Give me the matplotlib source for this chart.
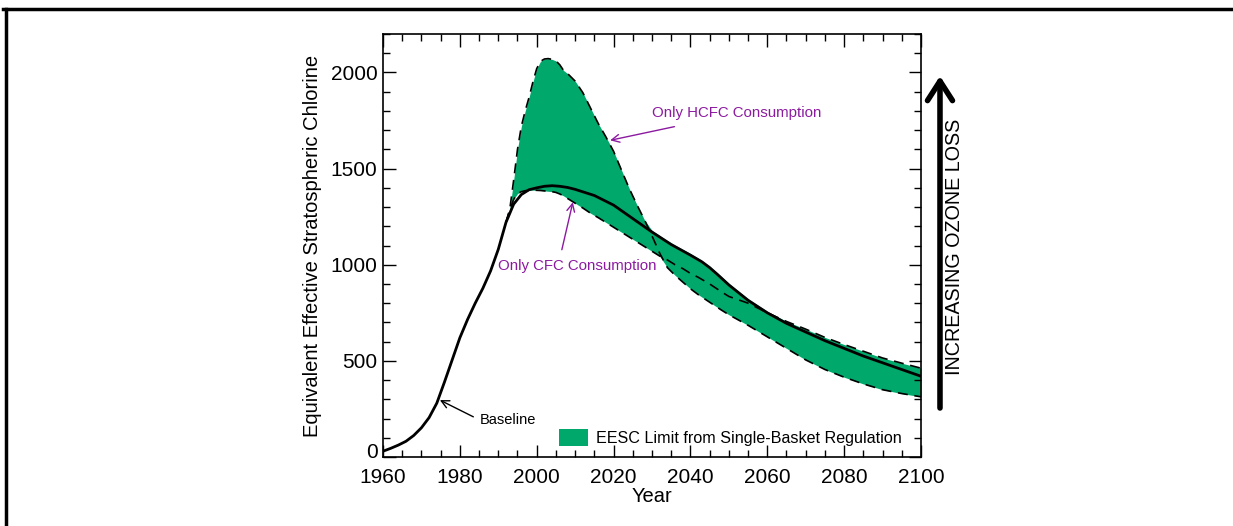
import numpy as np
import matplotlib
matplotlib.use('Agg')
import matplotlib.pyplot as plt
from matplotlib.lines import Line2D
from matplotlib.transforms import ScaledTranslation

plt.rcParams['font.family'] = ['Liberation Sans', 'DejaVu Sans']

# baseline EESC curve
base_years = [1960, 1962, 1964, 1966, 1968, 1970, 1972, 1974, 1976, 1978,
              1980, 1982, 1984, 1986, 1988, 1990, 1992, 1994, 1996, 1998,
              2000, 2002, 2004, 2006, 2008, 2010, 2015, 2020, 2025, 2030,
              2035, 2040, 2043, 2045, 2047, 2050, 2055, 2060, 2065, 2070,
              2075, 2080, 2085, 2090, 2095, 2100]
baseline = [30, 45, 62, 82, 112, 152, 205, 280, 390, 505,
            620, 715, 800, 878, 968, 1080, 1220, 1315, 1365, 1390,
            1400, 1408, 1411, 1408, 1402, 1392, 1360, 1310, 1240, 1170,
            1105, 1050, 1015, 985, 950, 895, 815, 750, 695, 650,
            605, 565, 525, 490, 455, 420]

# single-basket scenarios
scen_years = [1992, 1993, 1994, 1995, 1996, 1997, 1998, 1999, 2000, 2001,
              2002, 2003, 2004, 2005, 2006, 2007, 2008, 2010, 2012, 2014,
              2016, 2018, 2020, 2022, 2024, 2026, 2028, 2030, 2032, 2034,
              2036, 2038, 2040, 2042, 2045, 2048, 2050, 2055, 2060, 2065,
              2070, 2075, 2080, 2085, 2090, 2095, 2100]
hcfc_only = [1220, 1290, 1440, 1600, 1720, 1800, 1870, 1950, 2020, 2058,
             2070, 2072, 2068, 2060, 2040, 2010, 1995, 1955, 1895, 1815,
             1735, 1665, 1590, 1495, 1400, 1315, 1235, 1150, 1060, 985,
             945, 910, 875, 845, 805, 765, 740, 685, 625, 565,
             505, 455, 415, 380, 350, 330, 313]
cfc_only = [1220, 1285, 1340, 1370, 1380, 1385, 1387, 1388, 1387, 1386,
            1384, 1382, 1380, 1376, 1368, 1358, 1345, 1320, 1295, 1268,
            1245, 1220, 1195, 1170, 1145, 1120, 1095, 1070, 1045, 1025,
            1000, 980, 955, 935, 900, 860, 835, 800, 750, 705,
            665, 622, 585, 550, 515, 488, 462]

green = '#00a86b'
purple = '#8c1aa0'

fig = plt.figure(figsize=(12.33, 5.26), dpi=100)
ax = fig.add_axes([383/1233, 1-457/526, (921-383)/1233, (457-34)/526])

sy = np.array(scen_years)
hc = np.array(hcfc_only)
cf = np.array(cfc_only)
bl_on = np.interp(sy, base_years, baseline)
ax.fill_between(sy, np.minimum(hc, cf), np.maximum(np.maximum(hc, cf), bl_on + 8),
                color=green, lw=0, label='EESC Limit from Single-Basket Regulation')
ax.plot(sy, hc, color='black', lw=1.2, ls=(0, (6, 4)))
ax.plot(sy, cf, color='black', lw=1.2, ls=(0, (6, 4)))
ax.plot(base_years, baseline, color='black', lw=2.0)

ax.set_xlim(1960, 2100)
ax.set_ylim(0, 2200)
ax.set_xticks(np.arange(1960, 2101, 20))
ax.set_xticks(np.arange(1960, 2101, 5), minor=True)
ax.set_yticks(np.arange(0, 2001, 500))
ax.set_yticks(np.arange(0, 2201, 100), minor=True)
ax.tick_params(which='both', direction='in', top=True, right=True, labelsize=15)
ax.tick_params(axis='x', which='major', length=9, width=1.0, pad=8)
ax.tick_params(axis='y', which='major', length=9, width=1.0, pad=4)
ax.tick_params(which='minor', length=5, width=1.0)
for s in ax.spines.values():
    s.set_linewidth(1.2)

# lift the "0" label a little so it clears "1960"
fig.canvas.draw()
zero_lab = ax.get_yticklabels()[0]
zero_lab.set_transform(zero_lab.get_transform() + ScaledTranslation(0, 6/100, fig.dpi_scale_trans))

ax.set_xlabel('Year', fontsize=14.5, labelpad=0)
ax.set_ylabel('Equivalent Effective Stratospheric Chlorine', fontsize=14.5, labelpad=6)

# labels with arrows
ax.annotate('Only HCFC Consumption', xy=(2019.1, 1647), xytext=(2030.0, 1787),
            color=purple, fontsize=10.8, va='center', ha='left',
            arrowprops=dict(arrowstyle='->', color=purple, lw=1.0,
                            shrinkA=12, shrinkB=0, mutation_scale=14))
ax.annotate('Only CFC Consumption', xy=(2009.4, 1325), xytext=(2010.5, 992),
            color=purple, fontsize=10.8, va='center', ha='center',
            arrowprops=dict(arrowstyle='->', color=purple, lw=1.0,
                            shrinkA=5, shrinkB=0, mutation_scale=14,
                            relpos=(0.39, 1.0)))
ax.annotate('Baseline', xy=(1974.8, 296), xytext=(1985.2, 192),
            color='black', fontsize=10.5, va='center', ha='left',
            arrowprops=dict(arrowstyle='->', color='black', lw=1.0,
                            shrinkA=3, shrinkB=0, mutation_scale=14,
                            relpos=(0, 0.5)))

ax.legend(loc='lower right', bbox_to_anchor=(0.985, 0.0), frameon=False, fontsize=11.6,
          handlelength=1.8, handleheight=1.2, handletextpad=0.5, borderaxespad=0.3)

# ozone loss arrow
ax.annotate('', xy=(1.0353, 0.9007), xytext=(1.0353, 0.1158),
            xycoords='axes fraction', textcoords='axes fraction',
            arrowprops=dict(arrowstyle='->,head_length=0.7,head_width=0.45',
                            color='black', lw=4, mutation_scale=20,
                            shrinkA=0, shrinkB=0), annotation_clip=False)
ax.text(1.063, 0.4965, 'INCREASING OZONE LOSS', transform=ax.transAxes,
        rotation=90, ha='center', va='center', fontsize=14.2)

# page frame (top and left edges)
fig.add_artist(Line2D([3/1233, 1.0], [1-8.5/526, 1-8.5/526], color='black', lw=2.5,
                      transform=fig.transFigure))
fig.add_artist(Line2D([6/1233, 6/1233], [0.0, 1-8.5/526], color='black', lw=2.5,
                      transform=fig.transFigure))

fig.savefig('out.png', dpi=100)
